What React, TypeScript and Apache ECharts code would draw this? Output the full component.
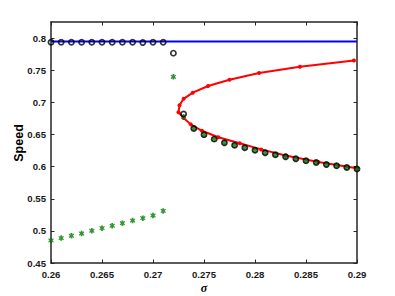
import React, { useEffect, useRef } from "react";
import * as echarts from "echarts";

// sigma values
const sigmaUpper = [0.26, 0.261, 0.262, 0.263, 0.264, 0.265, 0.266, 0.267, 0.268, 0.269, 0.27, 0.271, 0.272];
const speedUpperCircles = [0.794, 0.794, 0.794, 0.794, 0.794, 0.794, 0.794, 0.794, 0.794, 0.7935, 0.794, 0.794, 0.777];

const sigmaLower = [0.273, 0.274, 0.275, 0.276, 0.277, 0.278, 0.279, 0.28, 0.281, 0.282, 0.283, 0.284, 0.285, 0.286, 0.287, 0.288, 0.289, 0.29];
const speedLowerCircles = [0.682, 0.6595, 0.65, 0.643, 0.6375, 0.6335, 0.6297, 0.6258, 0.6217, 0.6186, 0.6157, 0.6124, 0.6093, 0.6067, 0.6036, 0.6016, 0.5989, 0.5963];

const sigmaGreenLeft = [0.26, 0.261, 0.262, 0.263, 0.264, 0.265, 0.266, 0.267, 0.268, 0.269, 0.27, 0.271, 0.272];
const speedGreenLeft = [0.485, 0.4888, 0.4924, 0.496, 0.5002, 0.5043, 0.508, 0.5121, 0.5161, 0.5199, 0.524, 0.5312, 0.74];
const speedGreenLower = [0.678, 0.6595, 0.65, 0.643, 0.6375, 0.6335, 0.6297, 0.6258, 0.6217, 0.6186, 0.6157, 0.6124, 0.6093, 0.6067, 0.6036, 0.6016, 0.5989, 0.5963];

// red continuation branch (from upper end, around the nose, to lower end)
const sigmaRed = [0.2897, 0.2844, 0.2804, 0.2775, 0.2754, 0.2739, 0.273, 0.2726, 0.2725, 0.273, 0.2737, 0.2748, 0.2764, 0.2785, 0.2806, 0.283, 0.2862, 0.29];
const speedRed = [0.7655, 0.7557, 0.746, 0.7356, 0.7258, 0.7154, 0.7058, 0.6957, 0.6848, 0.676, 0.666, 0.656, 0.646, 0.6365, 0.627, 0.6175, 0.6075, 0.5975];

const sigmaBlue = [0.26, 0.29];
const speedBlue = [0.795, 0.795];

const xTicks = { min: 0.26, max: 0.29, interval: 0.005 };
const yTicks = { min: 0.45, max: 0.8255, interval: 0.05 };

const zip = (a: number[], b: number[]) => a.map((v, i) => [v, b[i]]);

export default function App() {
  const ref = useRef<HTMLDivElement>(null);
  useEffect(() => {
    if (!ref.current) return;
    const chart = echarts.init(ref.current, null, { renderer: "svg" });
    const frame = "#262626";
    const labelFont = {
      color: "#1a1a1a",
      fontFamily: "Liberation Sans, Arial, sans-serif",
      fontWeight: "bold" as const,
      fontSize: 9.6,
    };
    const baseAxis = {
      type: "value" as const,
      axisLine: { show: true, onZero: false, lineStyle: { color: frame, width: 1.5 } },
      axisTick: { show: true, inside: true, length: 3.5, lineStyle: { color: frame, width: 1 } },
      splitLine: { show: false },
    };
    const star = "path://M2,0H4V1.6L5.4,0.6L6,1.6L4.6,3L6,4.4L5.4,5.4L4,4.4V6H2V4.4L0.6,5.4L0,4.4L1.4,3L0,1.6L0.6,0.6L2,1.6Z";
    chart.setOption({
      animation: false,
      grid: { left: 51, right: 38, top: 22, bottom: 33, containLabel: false },
      xAxis: [
        {
          ...baseAxis,
          position: "bottom",
          ...xTicks,
          axisLabel: { ...labelFont, margin: 6 },
        },
        {
          ...baseAxis,
          position: "top",
          ...xTicks,
          axisLabel: { show: false },
        },
      ],
      yAxis: [
        {
          ...baseAxis,
          position: "left",
          ...yTicks,
          axisLabel: { ...labelFont, margin: 5, showMaxLabel: false },
        },
        {
          ...baseAxis,
          position: "right",
          ...yTicks,
          axisLabel: { show: false },
        },
      ],
      graphic: [
        {
          type: "text",
          x: 19,
          y: 143,
          rotation: Math.PI / 2,
          style: {
            text: "Speed",
            fontFamily: "Liberation Sans, Arial, sans-serif",
            fontWeight: "bold",
            fontSize: 12.5,
            fill: "#000",
            align: "center",
            verticalAlign: "middle",
          },
        },
        {
          type: "text",
          x: 204,
          y: 288,
          style: {
            text: "σ",
            fontFamily: "Liberation Serif, Times New Roman, serif",
            fontStyle: "italic",
            fontWeight: "bold",
            fontSize: 12,
            fill: "#000",
            align: "center",
            verticalAlign: "middle",
          },
        },
      ],
      series: [
        {
          type: "line",
          data: zip(sigmaBlue, speedBlue),
          showSymbol: false,
          lineStyle: { color: "#0000ff", width: 2 },
          z: 1,
        },
        {
          type: "line",
          data: zip(sigmaRed, speedRed),
          symbol: "circle",
          symbolSize: 4,
          itemStyle: { color: "#ff0000" },
          lineStyle: { color: "#ff0000", width: 2 },
          z: 2,
        },
        {
          type: "scatter",
          data: zip(sigmaGreenLeft, speedGreenLeft),
          symbol: star,
          symbolSize: 5.5,
          itemStyle: { color: "#007a00" },
          z: 3,
        },
        {
          type: "scatter",
          data: zip(sigmaLower, speedGreenLower),
          symbol: star,
          symbolSize: 5.5,
          itemStyle: { color: "#007a00" },
          z: 3,
        },
        {
          type: "scatter",
          data: zip(sigmaUpper, speedUpperCircles).concat(zip(sigmaLower, speedLowerCircles)),
          symbol: "circle",
          symbolSize: 5.2,
          itemStyle: { color: "rgba(0,0,0,0)", borderColor: "#000", borderWidth: 1.7 },
          z: 4,
        },
      ],
    });
    return () => chart.dispose();
  }, []);
  return (
    <div
      ref={ref}
      style={{ position: "fixed", left: 0, top: 0, width: 395, height: 296, background: "#fff" }}
    />
  );
}
